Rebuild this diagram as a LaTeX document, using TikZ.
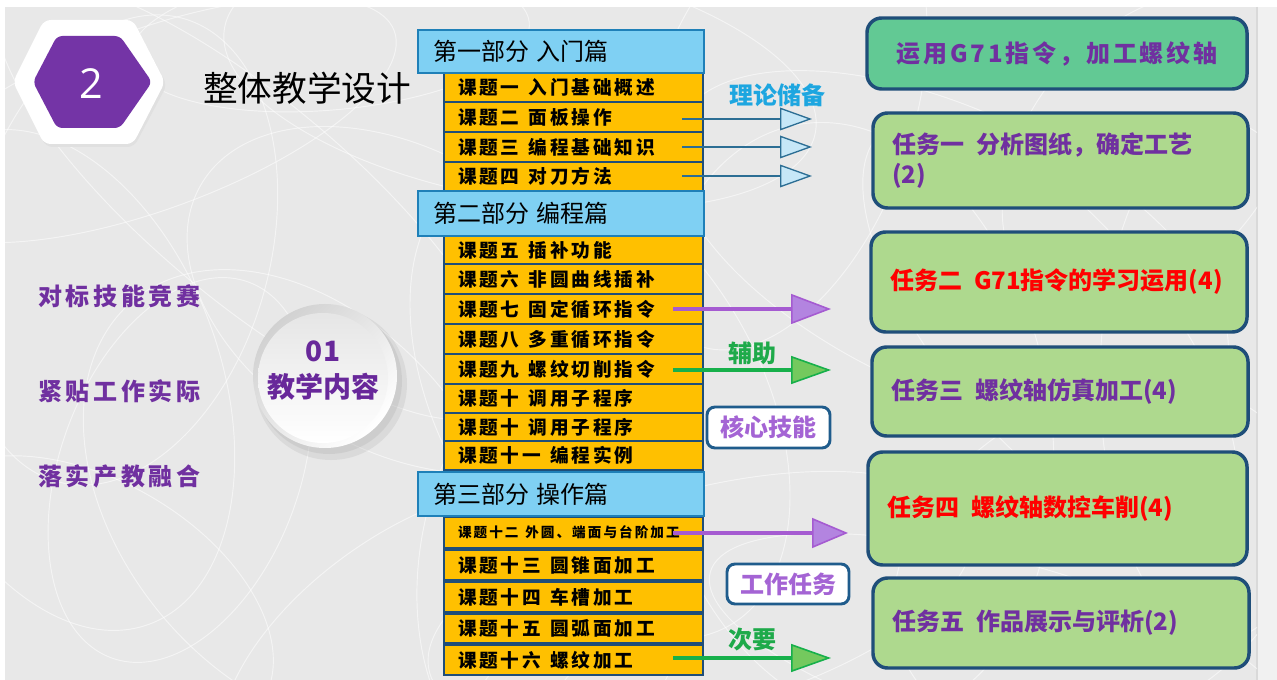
\documentclass[tikz,border=0pt]{standalone}
\usepackage{fontspec}
\usetikzlibrary{arrows.meta}
\newfontfamily\cjk{Noto Sans CJK SC}
\newfontfamily\kai[LetterSpace=15]{Noto Sans CJK SC}
\newfontfamily\kaiw[LetterSpace=12]{Noto Sans CJK SC}
\newfontfamily\osans{Open Sans}
\definecolor{hdrfill}{HTML}{7FD0F3}
\definecolor{hdrline}{HTML}{1F80B8}
\definecolor{topfill}{HTML}{FFC000}
\definecolor{topline}{HTML}{1F4E79}
\definecolor{navy}{HTML}{1F4E79}
\definecolor{mint}{HTML}{62C994}
\definecolor{lgreen}{HTML}{AED98E}
\definecolor{tpurple}{HTML}{7030A0}
\definecolor{tred}{HTML}{FF0000}
\definecolor{cyanlab}{HTML}{1DA6E0}
\definecolor{greenlab}{HTML}{1EAA4A}
\definecolor{purplelab}{HTML}{A464D4}
\definecolor{labline}{HTML}{1F5C8C}
\definecolor{arrblue}{HTML}{2C6E94}
\definecolor{arrbluefill}{HTML}{C6E7F7}
\definecolor{arrpur}{HTML}{A55BD1}
\definecolor{arrpurfill}{HTML}{B384E0}
\definecolor{arrgrn}{HTML}{17B04B}
\definecolor{arrgrnfill}{HTML}{74C95E}
\definecolor{hexpur}{HTML}{7434A6}
\definecolor{panel}{HTML}{E8E8E8}
\definecolor{strip}{HTML}{F1F1F1}
\definecolor{circtext}{HTML}{68289A}
\newcommand\gapA{\hspace{0.5em}}
% \bx{name}{x1}{y1}{x2}{y2}{style}{indent}{text}
\newcommand\bx[8]{\node[#6, inner ysep=0pt, inner xsep={#7*0.75pt},
  minimum width={(#4-#2)*0.75pt}, minimum height={(#5-#3)*0.75pt},
  text width={(#4-#2-2*#7)*0.75pt}] (#1) at ({(#2+#4)/2},{(#3+#5)/2}) {#8};}
\tikzset{
  hdr/.style={draw=hdrline, fill=hdrfill, line width=2.2pt, text=black,
    font=\cjk\fontsize{18}{22}\selectfont, align=left},
  topic/.style={draw=topline, fill=topfill, line width=1.5pt, text=black,
    font=\kai\bfseries\fontsize{14}{16}\selectfont, align=left},
  task/.style={draw=navy, line width=2.6pt, rounded corners=11pt, fill=lgreen,
    font=\cjk\bfseries\fontsize{18}{22.5}\selectfont, align=left},
  labbox/.style={draw=labline, line width=2.2pt, fill=white, rounded corners=6pt,
    text=purplelab, font=\cjk\bfseries\fontsize{18}{22}\selectfont, align=center},
  lab/.style={font=\cjk\bfseries\fontsize{18}{22}\selectfont, inner sep=0pt},
  side/.style={text=tpurple, font=\kai\bfseries\fontsize{18}{22}\selectfont, anchor=west, inner sep=0pt},
  scrib/.style={draw=white, line width=0.7pt, opacity=0.55},
  barr/.style={draw=arrblue, line width=1.3pt,
    -{Triangle[length=24pt, width=17pt, fill=arrbluefill, line width=1pt]}},
  parr/.style={draw=arrpur, line width=3pt,
    -{Triangle[length=30pt, width=22.5pt, fill=arrpurfill, line width=1.2pt]}},
  garr/.style={draw=arrgrn, line width=3pt,
    -{Triangle[length=30pt, width=21pt, fill=arrgrnfill, line width=1.2pt]}},
}
\begin{document}
\begin{tikzpicture}[x=0.75pt, y=-0.75pt]
% background
\fill[white] (0,0) rectangle (1277,680);
\useasboundingbox (0,0) rectangle (1277,680);
\fill[panel] (5,7) rectangle (1257,680);
\fill[strip] (1257,7) rectangle (1277,680);
\draw[black!15, line width=0.8pt] (1257,7) -- (1257,680);
\begin{scope}
\clip (5,7) rectangle (1257,680);
\foreach \cx/\cy/\a/\b/\r in {150/120/260/90/20, 90/600/200/120/-30, 300/500/180/260/40,
  520/80/300/120/-10, 700/600/280/110/15, 950/250/300/140/-25, 1100/560/220/160/30,
  400/300/150/230/60, 250/200/320/100/-40, 850/420/200/300/10, 1150/150/180/120/50,
  600/400/260/160/-60, 60/380/160/260/20, 1000/650/300/90/-15, 420/650/230/120/35,
  780/120/240/130/70, 180/470/120/200/-20, 1220/380/120/260/0, 330/40/200/70/5,
  1050/330/260/110/-50, 560/560/140/220/-10, 120/250/240/150/75}
  \draw[scrib, rotate around={\r:(\cx,\cy)}] (\cx,\cy) ellipse ({\a*0.75pt} and {\b*0.75pt});
\end{scope}
% hexagon
\fill[black!12, rounded corners=5pt] (15,85) -- (46,23) -- (134,23) -- (167,85) -- (134,147) -- (46,147) -- cycle;
\fill[white, rounded corners=5pt] (13,82) -- (44,20) -- (133,20) -- (165,82) -- (133,144) -- (44,144) -- cycle;
\fill[hexpur, rounded corners=4pt] (33,82) -- (57,36) -- (120,36) -- (152,82) -- (120,128) -- (57,128) -- cycle;
\node[text=white, font=\osans\fontsize{31}{31}\selectfont, inner sep=0pt] (hexnum) at (91,84) {2};
\node[anchor=west, inner sep=0pt, font=\cjk\fontsize{26}{30}\selectfont] (title) at (203,88) {整体教学设计};
% left texts
\node[side] (sideA) at (38,296) {对标技能竞赛};
\node[side] (sideB) at (38,391) {紧贴工作实际};
\node[side] (sideC) at (38,476) {落实产教融合};
% circle
\fill[black!30, opacity=0.25] (331,384) circle [radius=76*0.75pt];
\fill[black!30, opacity=0.3] (329,381) circle [radius=73*0.75pt];
\shade[left color=black!18, right color=white, shading angle=45] (325,376) circle [radius=72*0.75pt];
\shade[top color=black!10, bottom color=white] (323,378) circle [radius=65*0.75pt];
\node[text=circtext, font=\cjk\bfseries\fontsize{21}{24}\selectfont, inner sep=0pt] (c01) at (323,351) {01};
\node[text=circtext, font=\cjk\bfseries\fontsize{21}{24}\selectfont, inner sep=0pt] (cnt) at (323,387) {教学内容};
% topic boxes
\bx{t1}{444}{73}{703}{102}{topic}{14}{课题一\gapA 入门基础概述}
\bx{t2}{444}{102}{703}{132}{topic}{14}{课题二\gapA 面板操作}
\bx{t3}{444}{132}{703}{162}{topic}{14}{课题三\gapA 编程基础知识}
\bx{t4}{444}{162}{703}{191}{topic}{14}{课题四\gapA 对刀方法}
\bx{t5}{444}{236}{703}{264}{topic}{14}{课题五\gapA 插补功能}
\bx{t6}{444}{264}{703}{294}{topic}{14}{课题六\gapA 非圆曲线插补}
\bx{t7}{444}{294}{703}{324}{topic}{14}{课题七\gapA 固定循环指令}
\bx{t8}{444}{324}{703}{354}{topic}{14}{课题八\gapA 多重循环指令}
\bx{t9}{444}{354}{703}{384}{topic}{14}{课题九\gapA 螺纹切削指令}
\bx{t10}{444}{384}{703}{413}{topic}{14}{课题十\gapA 调用子程序}
\bx{t11}{444}{413}{703}{441}{topic}{14}{课题十\gapA 调用子程序}
\bx{t12}{444}{441}{703}{470}{topic}{14}{课题十一\gapA 编程实例}
\bx{t13}{444}{517}{703}{548}{topic, font=\kai\bfseries\fontsize{10.2}{12}\selectfont}{14}{课题十二\gapA 外圆、端面与台阶加工}
\bx{t14}{444}{550}{703}{580}{topic}{14}{课题十三\gapA 圆锥面加工}
\bx{t15}{444}{582}{703}{612}{topic}{14}{课题十四\gapA 车槽加工}
\bx{t16}{444}{614}{703}{643}{topic}{14}{课题十五\gapA 圆弧面加工}
\bx{t17}{444}{645}{703}{675}{topic}{14}{课题十六\gapA 螺纹加工}
% section headers
\bx{s1}{418}{30}{704}{73}{hdr}{15}{第一部分 入门篇}
\bx{s2}{418}{191}{704}{236}{hdr}{15}{第二部分 编程篇}
\bx{s3}{418}{472}{704}{516}{hdr}{15}{第三部分 操作篇}
% arrows
\coordinate (a1s) at (682,119); \coordinate (a1e) at (812,119);
\coordinate (a2s) at (682,147); \coordinate (a2e) at (812,147);
\coordinate (a3s) at (682,176); \coordinate (a3e) at (812,176);
\coordinate (a4s) at (673,309); \coordinate (a4e) at (831,309);
\coordinate (a5s) at (673,370); \coordinate (a5e) at (831,370);
\coordinate (a6s) at (673,533); \coordinate (a6e) at (848,533);
\coordinate (a7s) at (673,658); \coordinate (a7e) at (831,658);
\draw[barr] (a1s) -- (a1e);
\draw[barr] (a2s) -- (a2e);
\draw[barr] (a3s) -- (a3e);
\draw[parr] (a4s) -- (a4e);
\draw[garr] (a5s) -- (a5e);
\draw[parr, -{Triangle[length=27pt, width=22.5pt, fill=arrpurfill, line width=1.2pt]}] (a6s) -- (a6e);
\draw[garr] (a7s) -- (a7e);
% labels
\node[lab, text=cyanlab] (l1) at (777,95) {理论储备};
\node[lab, text=greenlab] (l2) at (752,353) {辅助};
\bx{l3}{707}{407}{830}{448}{labbox}{0}{核心技能}
\bx{l4}{727}{564}{849}{604}{labbox}{0}{工作任务}
\node[lab, text=greenlab] (l5) at (752,640) {次要};
% right boxes
\bx{r0}{867}{18}{1247}{89}{task, fill=mint, align=center, text=tpurple, font=\kaiw\bfseries\fontsize{18}{22.5}\selectfont}{0}{运用G71指令，加工螺纹轴}
\bx{r1}{873}{113}{1248}{208}{task, text=tpurple}{19}{任务一\gapA 分析图纸，确定工艺\\(2)}
\bx{r2}{871}{232}{1247}{332}{task, text=tred}{19}{任务二\gapA G71指令的学习运用(4)}
\bx{r3}{872}{347}{1248}{436}{task, text=tpurple}{19}{任务三\gapA 螺纹轴仿真加工(4)}
\bx{r4}{868}{452}{1247}{565}{task, text=tred}{19}{任务四\gapA 螺纹轴数控车削(4)}
\bx{r5}{873}{578}{1249}{668}{task, text=tpurple}{19}{任务五\gapA 作品展示与评析(2)}
\end{tikzpicture}
\end{document}
